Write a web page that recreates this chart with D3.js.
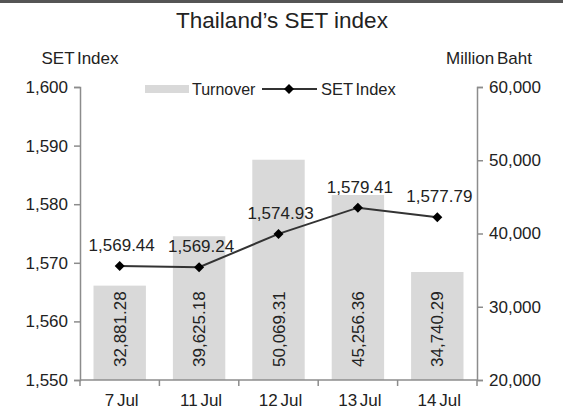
<!DOCTYPE html>
<html>
<head>
<meta charset="utf-8">
<script src="https://cdn.jsdelivr.net/npm/d3@7"></script>
<style>
  body { margin: 0; background: #fff; }
  svg { font-family: "Liberation Sans", Arial, sans-serif; }
</style>
</head>
<body>
<svg id="chart"></svg>
<script>
// data
let categories = ["7 Jul", "11 Jul", "12 Jul", "13 Jul", "14 Jul"]
let turnover = [32881.28, 39625.18, 50069.31, 45256.36, 34740.29]
let setIndex = [1569.44, 1569.24, 1574.93, 1579.41, 1577.79]
let leftTicks = [1550, 1560, 1570, 1580, 1590, 1600]
let rightTicks = [20000, 30000, 40000, 50000, 60000]

let svgWidth = 583
let svgHeight = 420
let margin = { top: 87, right: 106, bottom: 40, left: 80 }
let innerW = svgWidth - margin.left - margin.right
let innerH = svgHeight - margin.top - margin.bottom

let axisColor = "#8c8c8c"
let textColor = "#222"
let fontSize = 17
let fmt = d3.format(",.2f")

let svg = d3.select("#chart")
  .attr("width", svgWidth)
  .attr("height", svgHeight)

// top border line
svg.append("rect")
  .attr("x", 0).attr("y", 0)
  .attr("width", 563).attr("height", 3)
  .attr("fill", "#555")

svg.append("text")
  .attr("x", 282).attr("y", 28)
  .attr("text-anchor", "middle")
  .attr("font-size", 22.5)
  .attr("fill", textColor)
  .text("Thailand\u2019s SET index")

svg.append("text")
  .attr("x", 80).attr("y", 64)
  .attr("text-anchor", "middle")
  .attr("font-size", fontSize)
  .attr("word-spacing", -2)
  .attr("fill", textColor)
  .text("SET Index")

svg.append("text")
  .attr("x", 489).attr("y", 64)
  .attr("text-anchor", "middle")
  .attr("font-size", fontSize)
  .attr("word-spacing", -2)
  .attr("fill", textColor)
  .text("Million Baht")

let g = svg.append("g")
  .attr("transform", "translate(" + margin.left + "," + margin.top + ")")

let x = d3.scaleBand()
  .domain(categories)
  .range([0, innerW])
  .paddingInner(0.34)
  .paddingOuter(0.17)

let yLeft = d3.scaleLinear().domain([1550, 1600]).range([innerH, 0])
let yRight = d3.scaleLinear().domain([20000, 60000]).range([innerH, 0])

// bars
g.selectAll("rect.bar")
  .data(turnover)
  .enter()
  .append("rect")
  .attr("class", "bar")
  .attr("x", (d, i) => x(categories[i]))
  .attr("width", x.bandwidth())
  .attr("y", d => yRight(d))
  .attr("height", d => innerH - yRight(d))
  .attr("fill", "#d9d9d9")

// bar labels, rotated, sitting on the base
g.selectAll("text.barlabel")
  .data(turnover)
  .enter()
  .append("text")
  .attr("class", "barlabel")
  .attr("transform", (d, i) => {
    let cx = x(categories[i]) + x.bandwidth() / 2 + 6
    return "translate(" + cx + "," + (innerH - 13) + ") rotate(-90)"
  })
  .attr("font-size", fontSize)
  .attr("fill", textColor)
  .text(d => fmt(d))

// left axis
let leftAxis = g.append("g")
  .call(d3.axisLeft(yLeft).tickValues(leftTicks).tickFormat(d3.format(",")).tickSize(6).tickPadding(6))
leftAxis.select(".domain").attr("stroke", axisColor).attr("stroke-width", 1.5)
leftAxis.selectAll(".tick line").attr("stroke", axisColor).attr("stroke-width", 1.5)
leftAxis.selectAll(".tick text").attr("font-size", fontSize).attr("fill", textColor).attr("font-family", "Liberation Sans, Arial, sans-serif")

// right axis
let rightAxis = g.append("g")
  .attr("transform", "translate(" + innerW + ",0)")
  .call(d3.axisRight(yRight).tickValues(rightTicks).tickFormat(d3.format(",")).tickSize(6).tickPadding(6))
rightAxis.select(".domain").attr("stroke", axisColor).attr("stroke-width", 1.5)
rightAxis.selectAll(".tick line").attr("stroke", axisColor).attr("stroke-width", 1.5)
rightAxis.selectAll(".tick text").attr("font-size", fontSize).attr("fill", textColor).attr("font-family", "Liberation Sans, Arial, sans-serif")

// bottom axis with ticks between categories
let bottom = g.append("g").attr("transform", "translate(0," + innerH + ")")
bottom.append("line")
  .attr("x1", 0).attr("x2", innerW)
  .attr("stroke", axisColor).attr("stroke-width", 1.5)
let step = x.step()
let bounds = categories.map((c, i) => x(c) - x.paddingInner() * step / 2).concat([innerW])
bottom.selectAll("line.sep")
  .data(bounds)
  .enter()
  .append("line")
  .attr("class", "sep")
  .attr("x1", d => d).attr("x2", d => d)
  .attr("y1", 0).attr("y2", 6)
  .attr("stroke", axisColor).attr("stroke-width", 1.5)
bottom.selectAll("text.cat")
  .data(categories)
  .enter()
  .append("text")
  .attr("class", "cat")
  .attr("x", d => x(d) + x.bandwidth() / 2 + 2)
  .attr("y", 26)
  .attr("text-anchor", "middle")
  .attr("font-size", fontSize)
  .attr("word-spacing", -2)
  .attr("fill", textColor)
  .text(d => d)

// SET index line
let line = d3.line()
  .x((d, i) => x(categories[i]) + x.bandwidth() / 2)
  .y(d => yLeft(d))

g.append("path")
  .datum(setIndex)
  .attr("d", line)
  .attr("fill", "none")
  .attr("stroke", "#333")
  .attr("stroke-width", 2)

let diamond = d3.symbol().type(d3.symbolDiamond2).size(64)
g.selectAll("path.pt")
  .data(setIndex)
  .enter()
  .append("path")
  .attr("class", "pt")
  .attr("d", diamond)
  .attr("transform", (d, i) => "translate(" + (x(categories[i]) + x.bandwidth() / 2) + "," + yLeft(d) + ")")
  .attr("fill", "#000")

g.selectAll("text.ptlabel")
  .data(setIndex)
  .enter()
  .append("text")
  .attr("class", "ptlabel")
  .attr("x", (d, i) => x(categories[i]) + x.bandwidth() / 2 + 2)
  .attr("y", d => yLeft(d) - 15)
  .attr("text-anchor", "middle")
  .attr("font-size", fontSize)
  .attr("fill", textColor)
  .text(d => fmt(d))

// legend
let legend = svg.append("g").attr("transform", "translate(145,89)")
legend.append("rect")
  .attr("x", 0).attr("y", -4)
  .attr("width", 44).attr("height", 8)
  .attr("fill", "#d9d9d9")
legend.append("text")
  .attr("x", 47).attr("y", 6)
  .attr("font-size", 16)
  .attr("fill", textColor)
  .text("Turnover")
legend.append("line")
  .attr("x1", 117).attr("x2", 172)
  .attr("stroke", "#333").attr("stroke-width", 2)
legend.append("path")
  .attr("d", diamond)
  .attr("transform", "translate(144,0)")
  .attr("fill", "#000")
legend.append("text")
  .attr("x", 176).attr("y", 6)
  .attr("font-size", 16.5)
  .attr("word-spacing", -2)
  .attr("fill", textColor)
  .text("SET Index")
</script>
</body>
</html>
